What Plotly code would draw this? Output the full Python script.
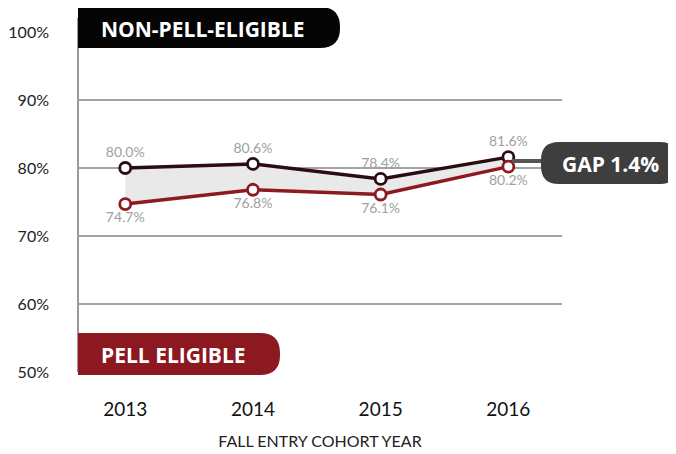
import plotly.graph_objects as go

years = [2013, 2014, 2015, 2016]
non_pell = [80.0, 80.6, 78.4, 81.6]
pell = [74.7, 76.8, 76.1, 80.2]
non_pell_labels = ["80.0%", "80.6%", "78.4%", "81.6%"]
pell_labels = ["74.7%", "76.8%", "76.1%", "80.2%"]
y_ticks = [50, 60, 70, 80, 90, 100]
y_tick_text = ["50%", "60%", "70%", "80%", "90%", "100%"]
gap_text = "GAP 1.4%"

W, H = 676, 454
OFF = 8  # page body margin
L, R, T, B = 78 - OFF, 114 + OFF, 32 - OFF, 82 + OFF
PW, PH = W - L - R, H - T - B

DARK = "#2a0d10"
RED = "#8e1a20"


def px(x):
    return (x - OFF - L) / PW


def py(y):
    return (H - B - (y - OFF)) / PH


def pill(x0, y0, x1, y1, r, left_round=False):
    # rounded rectangle path in paper coords, built from page pixel positions
    rx, ry = r / PW, r / PH
    a, b, c, d = px(x0), py(y1), px(x1), py(y0)
    p = [f"M{a + rx},{d}" if left_round else f"M{a},{d}",
         f"L{c - rx},{d}", f"Q{c},{d} {c},{d - ry}",
         f"L{c},{b + ry}", f"Q{c},{b} {c - rx},{b}"]
    if left_round:
        p += [f"L{a + rx},{b}", f"Q{a},{b} {a},{b + ry}",
              f"L{a},{d - ry}", f"Q{a},{d} {a + rx},{d}"]
    else:
        p.append(f"L{a},{b}")
    p.append("Z")
    return " ".join(p)


fig = go.Figure()

fig.add_trace(go.Scatter(x=years, y=pell, mode="lines", line=dict(width=0),
                         hoverinfo="skip", showlegend=False))
fig.add_trace(go.Scatter(x=years, y=non_pell, mode="lines", line=dict(width=0),
                         fill="tonexty", fillcolor="#e9e9e9",
                         hoverinfo="skip", showlegend=False))

for vals, color, labels, pos in [(non_pell, DARK, non_pell_labels, "top center"),
                                  (pell, RED, pell_labels, "bottom center")]:
    fig.add_trace(go.Scatter(
        x=years, y=vals, mode="lines+markers+text", text=labels, textposition=pos,
        textfont=dict(family="Lato, sans-serif", size=14, color="#a0a0a0"),
        line=dict(color=color, width=3.5),
        marker=dict(size=11, color="white", line=dict(color=color, width=2.8)),
        showlegend=False, cliponaxis=False))

shapes = [
    dict(type="line", xref="paper", yref="paper", x0=0, x1=0, y0=0, y1=py(18),
         line=dict(color="#9a9a9a", width=2)),
    dict(type="line", xref="paper", yref="paper", x0=px(512), x1=px(548),
         y0=py(161), y1=py(161), line=dict(color="#555555", width=4)),
    dict(type="path", xref="paper", yref="paper", path=pill(78, 7, 340, 48, 20),
         fillcolor="#050505", line=dict(width=0)),
    dict(type="path", xref="paper", yref="paper", path=pill(78, 333, 280, 375, 20),
         fillcolor="#8c1820", line=dict(width=0)),
    dict(type="path", xref="paper", yref="paper", path=pill(541, 142, 678, 184, 18, True),
         fillcolor="#3e3e3e", line=dict(width=0)),
]

label_font = dict(family="Open Sans, sans-serif", size=21, color="white")
annotations = [
    dict(xref="paper", yref="paper", x=px(99), y=py(29), xanchor="left", yanchor="middle",
         text="<b>NON-PELL-ELIGIBLE</b>", showarrow=False, font=label_font),
    dict(xref="paper", yref="paper", x=px(99), y=py(355), xanchor="left", yanchor="middle",
         text="<b>PELL ELIGIBLE</b>", showarrow=False, font=label_font),
    dict(xref="paper", yref="paper", x=px(610), y=py(164), xanchor="center", yanchor="middle",
         text=f"<b>{gap_text}</b>", showarrow=False, font=label_font),
]

fig.update_layout(
    width=W, height=H, margin=dict(l=L, r=R, t=T, b=B),
    paper_bgcolor="white", plot_bgcolor="white",
    shapes=shapes, annotations=annotations,
    xaxis=dict(range=[2012.63, 2016.42], tickvals=years, showgrid=False, zeroline=False,
               showline=False, ticks="", ticklabelstandoff=24, automargin=False,
               tickfont=dict(family="Lato, sans-serif", size=19, color="#111111"),
               title=dict(text="FALL ENTRY COHORT YEAR", standoff=16,
                          font=dict(family="Lato, sans-serif", size=16, color="#222222"))),
    yaxis=dict(range=[50, 100], tickvals=y_ticks, ticktext=y_tick_text, automargin=False,
               showgrid=True, gridcolor="#a3a3a3", gridwidth=2, zeroline=False,
               showline=False, ticks="", ticklabelstandoff=28,
               tickfont=dict(family="Lato, sans-serif", size=16, color="#222222")),
)

fig.write_html("out.html")
